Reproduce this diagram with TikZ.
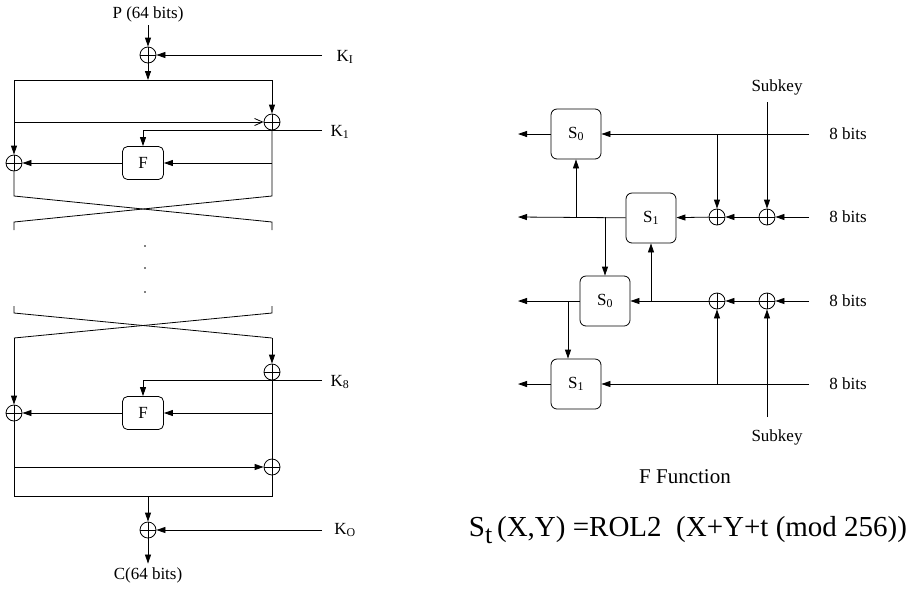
\documentclass[tikz,border=0pt]{standalone}
\usepackage{fontspec}
\setmainfont{Liberation Serif}
\usetikzlibrary{positioning,arrows.meta}

\begin{document}
\begin{tikzpicture}[x=1pt,y=-1pt,line width=0.8pt,
    font=\fontsize{17}{19}\selectfont,
    arr/.style={-{Triangle[length=9pt,width=6pt]}},
    oarr/.style={-{Straight Barb[length=8pt,width=7pt]}},
    xor/.style={circle,draw,minimum size=16pt,inner sep=0pt,
                path picture={\draw (path picture bounding box.north)--(path picture bounding box.south)
                                    (path picture bounding box.west)--(path picture bounding box.east);}},
    fbox/.style={draw,rounded corners=5pt,minimum width=41pt,minimum height=33pt,inner sep=0pt},
    sbox/.style={draw,rounded corners=6pt,minimum width=50pt,minimum height=50pt,inner sep=0pt}]
  \useasboundingbox (0,0) rectangle (917,590);

  % ---- cipher structure
  \node (ptxt) at (148,14) {P (64 bits)};
  \node[xor] (xin) at (148,55) {};
  \node (ki) at (345,57) {K\textsubscript{I}};
  \coordinate (kiend) at (322,55);
  \coordinate (tl) at (14,80);
  \coordinate (tr) at (272,80);
  \coordinate (tm) at (148,80);
  \draw[arr] (ptxt) -- (xin);
  \draw[arr] (kiend) -- (xin);
  \draw[arr] (xin) -- (tm);
  \draw (tl) -- (tr);

  % round 1
  \node[xor] (x1r) at (272,122) {};
  \node[xor] (x1l) at (14,163) {};
  \node[fbox] (f1) at (143,163) {F};
  \node (k1) at (340,132) {K\textsubscript{1}};
  \coordinate (k1end) at (322,130);
  \draw[arr] (tl) -- (x1l);
  \draw[arr] (tr) -- (x1r);
  \draw[oarr] (tl |- x1r) -- (x1r);
  \draw[arr] (k1end) -| (f1);
  \draw[arr] (x1r |- f1) -- (f1);
  \draw[arr] (f1) -- (x1l);

  % swap 1
  \coordinate (c1a) at (14,196);  \coordinate (c1b) at (272,196);
  \coordinate (c1c) at (14,222);  \coordinate (c1d) at (272,222);
  \coordinate (c1e) at (14,230);  \coordinate (c1f) at (272,230);
  \draw (x1l) -- (c1a) -- (c1d) -- (c1f);
  \draw (x1r) -- (c1b) -- (c1c) -- (c1e);

  \foreach \y in {246,268,292} \fill (145,\y) circle (0.9pt);

  % swap 2
  \coordinate (c2a) at (14,306);  \coordinate (c2b) at (272,306);
  \coordinate (c2c) at (14,313);  \coordinate (c2d) at (272,313);
  \coordinate (c2e) at (14,338);  \coordinate (c2f) at (272,338);
  \draw (c2a) -- (c2c) -- (c2f);
  \draw (c2b) -- (c2d) -- (c2e);

  % round 8
  \node[xor] (x8r) at (272,372) {};
  \node[xor] (x8l) at (14,413) {};
  \node[fbox] (f8) at (143,413) {F};
  \node (k8) at (340,382) {K\textsubscript{8}};
  \coordinate (k8end) at (322,380);
  \draw[arr] (c2e) -- (x8l);
  \draw[arr] (c2f) -- (x8r);
  \draw[arr] (k8end) -| (f8);
  \draw[arr] (x8r |- f8) -- (f8);
  \draw[arr] (f8) -- (x8l);

  % output
  \node[xor] (xout) at (272,467) {};
  \coordinate (bl) at (14,496);
  \coordinate (br) at (272,496);
  \coordinate (bm) at (148,496);
  \draw (x8r) -- (xout);
  \draw[arr] (x8l |- xout) -- (xout);
  \draw (x8l) -- (bl) -- (br) -- (xout);
  \node[xor] (xo) at (148,530) {};
  \node (ko) at (345,530) {K\textsubscript{O}};
  \coordinate (koend) at (322,530);
  \node (ctxt) at (148,575) {C(64 bits)};
  \draw[arr] (bm) -- (xo);
  \draw[arr] (koend) -- (xo);
  \draw[arr] (xo) -- (ctxt);

  % ---- F function
  \node[sbox] (s0a) at (576,134) {S\textsubscript{0}};
  \node[sbox] (s1a) at (651,218) {S\textsubscript{1}};
  \node[sbox] (s0b) at (605,301) {S\textsubscript{0}};
  \node[sbox] (s1b) at (576,384) {S\textsubscript{1}};
  \node[xor] (xa2) at (717,217) {};
  \node[xor] (xb2) at (767,217) {};
  \node[xor] (xa3) at (717,301) {};
  \node[xor] (xb3) at (767,301) {};
  \foreach \n/\y in {1/134,2/217,3/301,4/384}{
    \node (b\n) at (848,\y) {8 bits};
    \coordinate (in\n) at (809,\y);
    \coordinate (o\n) at (518,\y);
  }
  \node (skt) at (777,87) {Subkey};
  \node (skb) at (777,437) {Subkey};
  \coordinate (sktend) at (767,102);
  \coordinate (skbend) at (767,417);
  \coordinate (t3) at (568,301);

  \draw[arr] (in1) -- (s0a);
  \draw[arr] (s0a) -- (o1);
  \draw[arr] (xa2 |- in1) -- (xa2);
  \draw[arr] (sktend) -- (xb2);
  \draw[arr] (in2) -- (xb2);
  \draw[arr] (xb2) -- (xa2);
  \draw[arr] (xa2) -- (s1a);
  \draw[arr] (s1a) -- (o2);
  \draw[arr] (s0a |- in2) -- (s0a);
  \draw[arr] (s0b |- in2) -- (s0b);
  \draw[arr] (s1a |- in3) -- (s1a);
  \draw[arr] (in3) -- (xb3);
  \draw[arr] (xb3) -- (xa3);
  \draw[arr] (xa3) -- (s0b);
  \draw[arr] (s0b) -- (o3);
  \draw[arr] (t3) -- (t3 |- s1b.north);
  \draw[arr] (in4) -- (s1b);
  \draw[arr] (s1b) -- (o4);
  \draw[arr] (xa3 |- in4) -- (xa3);
  \draw[arr] (skbend) -- (xb3);

  \node[font=\fontsize{21}{24}\selectfont] (ftitle) at (685,477) {F Function};
  \node[font=\fontsize{29}{32}\selectfont] (eqn) at (688,530)
    {S\raisebox{-7pt}{\fontsize{26}{28}\selectfont t}\,(X,Y) =ROL2\ \ (X+Y+t (mod 256))};
\end{tikzpicture}
\end{document}
